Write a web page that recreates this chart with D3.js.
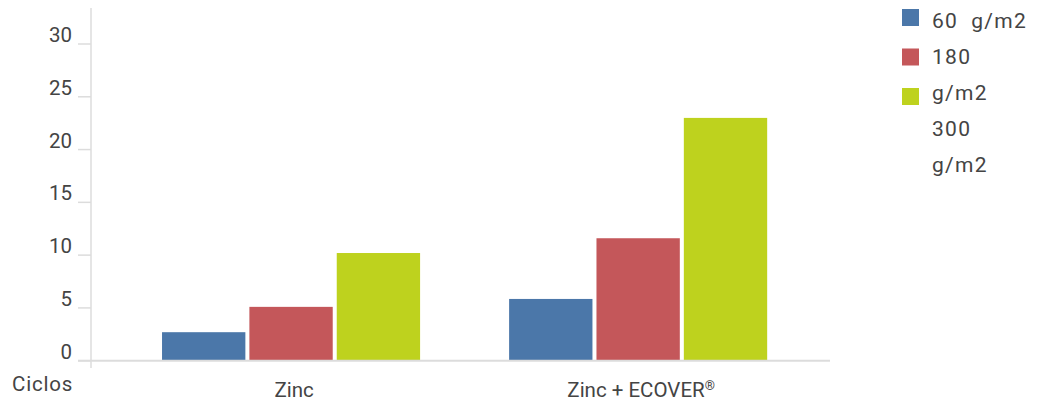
<!DOCTYPE html>
<html>
<head>
<meta charset="utf-8">
<script src="https://cdn.jsdelivr.net/npm/d3@7"></script>
<style>
  html, body { margin: 0; padding: 0; background: #fff; }
  svg { display: block; font-family: Roboto, "DejaVu Sans", sans-serif; }
</style>
</head>
<body>
<svg id="chart" width="1037" height="403"></svg>
<script>
const categories = ["Zinc", "Zinc + ECOVER®"];
const seriesNames = ["60 g/m2", "180 g/m2", "300 g/m2"];
const series60 = [2.7, 5.85];
const series180 = [5.1, 11.6];
const series300 = [10.2, 23];
const yTicks = [0, 5, 10, 15, 20, 25, 30];
const yLabel = "Ciclos";
const legendLines = ["60  g/m2", "180", "g/m2", "300", "g/m2"];
const colors = ["#4B77A9", "#C4575A", "#BED21E"];

const seriesValues = [series60, series180, series300];
const svg = d3.select("#chart");

const y = d3.scaleLinear().domain([0, 30]).range([360.7, 44]);
const x0 = d3.scaleBand().domain(categories).range([117.6, 811.6]).paddingInner(0.2565).paddingOuter(0.128);
const x1 = d3.scaleBand().domain(seriesNames).range([0, x0.bandwidth()]).paddingInner(0.046).paddingOuter(0);

const axisColor = "#dcdcdc";
const textColor = "#444";

// Bars
categories.forEach((cat, ci) => {
  const g = svg.append("g").attr("transform", `translate(${x0(cat)},0)`);
  seriesNames.forEach((s, si) => {
    const v = seriesValues[si][ci];
    g.append("rect")
      .attr("x", x1(s))
      .attr("y", y(v))
      .attr("width", x1.bandwidth())
      .attr("height", y(0) - y(v))
      .attr("fill", colors[si]);
  });
});

// Y axis line
svg.append("line").attr("x1", 91).attr("x2", 91).attr("y1", 8).attr("y2", 368)
  .attr("stroke", axisColor).attr("stroke-width", 1.5);
// X axis line
svg.append("line").attr("x1", 78).attr("x2", 830).attr("y1", y(0)).attr("y2", y(0))
  .attr("stroke", axisColor).attr("stroke-width", 2);

// Ticks
svg.selectAll("line.tick").data(yTicks).enter().append("line")
  .attr("class", "tick")
  .attr("x1", 78).attr("x2", 91)
  .attr("y1", d => y(d)).attr("y2", d => y(d))
  .attr("stroke", axisColor).attr("stroke-width", 1.5);

svg.selectAll("text.tl").data(yTicks).enter().append("text")
  .attr("class", "tl")
  .attr("x", 72).attr("y", d => y(d) - 2)
  .attr("text-anchor", "end")
  .attr("font-size", 20.5).attr("fill", textColor)
  .text(d => d);

svg.append("text").attr("x", 12).attr("y", 391)
  .attr("font-size", 20.5).attr("fill", textColor).attr("letter-spacing", 0.8)
  .text(yLabel);

// Category labels (with small superscript ®)
svg.selectAll("text.cat").data(categories).enter().append("text")
  .attr("class", "cat")
  .attr("x", d => x0(d) + x0.bandwidth() / 2 + 3)
  .attr("y", 397)
  .attr("text-anchor", "middle")
  .attr("font-size", 20.5).attr("fill", textColor)
  .each(function(d) {
    const t = d3.select(this);
    const parts = d.split("®");
    t.append("tspan").text(parts[0]);
    if (parts.length > 1) {
      t.append("tspan").attr("font-size", 13).attr("dy", -7).text("®");
    }
  });

// Legend
seriesNames.forEach((s, i) => {
  svg.append("rect").attr("x", 902).attr("y", 9 + i * 39.5)
    .attr("width", 17).attr("height", 17).attr("fill", colors[i]);
});
legendLines.forEach((t, i) => {
  svg.append("text").attr("x", 932).attr("y", 28 + i * 36)
    .attr("font-size", 21).attr("fill", textColor).attr("letter-spacing", 1.3)
    .style("white-space", "pre")
    .text(t);
});
</script>
</body>
</html>
